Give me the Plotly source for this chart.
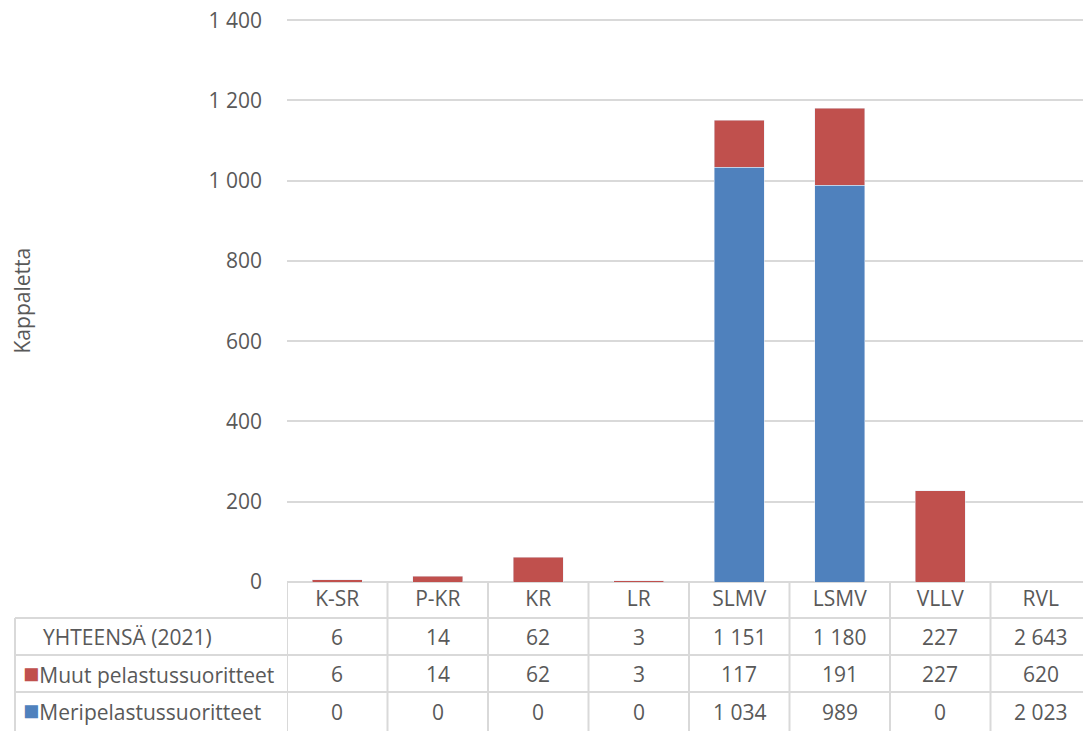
import plotly.graph_objects as go

categories = ["K-SR", "P-KR", "KR", "LR", "SLMV", "LSMV", "VLLV", "RVL"]
meripelastus = [0, 0, 0, 0, 1034, 989, 0, 2023]
muut = [6, 14, 62, 3, 117, 191, 227, 620]
yhteensa = [6, 14, 62, 3, 1151, 1180, 227, 2643]
y_ticks = [0, 200, 400, 600, 800, 1000, 1200, 1400]

# RVL is a summary column: it is only shown in the table, not as a bar
bar_cats = categories[:7]

BLUE = "#4F81BD"
RED = "#C0504D"
TXT = "#595959"
LINE = "#D9D9D9"
FONT = "Open Sans"
FS = 21

# the page body has an 8px margin, so the figure is shrunk to fit the window
OFF = 8
W, H = 1091 - OFF, 731 - OFF
PLOT_L, PLOT_T, PLOT_B = 287, 19, 582   # plot area in window pixels
L, R, T, B = PLOT_L - OFF, 0, PLOT_T - OFF, 731 - PLOT_B
plot_h = H - T - B
plot_w = W - L - R


def py(pix):
    # window pixel row -> paper y
    return (PLOT_B - pix) / plot_h


def px(pix):
    # window pixel column -> paper x
    return (pix - PLOT_L) / plot_w


def fmt(v):
    return f"{v:,}".replace(",", " ")


fig = go.Figure()
fig.add_trace(go.Bar(x=bar_cats, y=meripelastus[:7], name="Meripelastussuoritteet",
                     marker_color=BLUE))
fig.add_trace(go.Bar(x=bar_cats, y=muut[:7], name="Muut pelastussuoritteet",
                     marker_color=RED))

fig.update_layout(
    width=W, height=H,
    margin=dict(l=L, r=R, t=T, b=B),
    barmode="stack", bargap=0.5,
    showlegend=False,
    plot_bgcolor="white", paper_bgcolor="white",
    font=dict(family=FONT, size=FS, color=TXT),
    separators=", ",
)

fig.update_xaxes(
    type="category", categoryorder="array", categoryarray=categories,
    range=[-0.5, len(categories) - 0.5],
    showgrid=False, showline=False, ticks="",
    ticklabelstandoff=2, automargin=False,
    tickfont=dict(size=FS, color=TXT),
)
# top slightly above 1400 so plotly keeps the 1400 gridline
fig.update_yaxes(
    range=[0, 1403], tickvals=y_ticks, separatethousands=True,
    showgrid=True, gridcolor=LINE, gridwidth=1.5,
    zeroline=True, zerolinecolor=LINE, zerolinewidth=1.5,
    ticks="", ticklabelstandoff=24, ticklabeloverflow="allow",
    automargin=False,
    tickfont=dict(size=FS, color=TXT),
)

shapes = []
# vertical table lines at category boundaries
for i in range(len(categories) + 1):
    shapes.append(dict(type="line", xref="x", yref="paper",
                       x0=i - 0.5, x1=i - 0.5, y0=0, y1=py(731),
                       line=dict(color=LINE, width=2)))
# left border of the label column
shapes.append(dict(type="line", xref="paper", yref="paper",
                   x0=px(15), x1=px(15), y0=py(618), y1=py(731),
                   line=dict(color=LINE, width=2)))
# horizontal row lines
for yy in [618, 655, 692]:
    shapes.append(dict(type="line", xref="paper", yref="paper",
                       x0=px(15), x1=1, y0=py(yy), y1=py(yy),
                       line=dict(color=LINE, width=2)))

annotations = []
rows = [
    ("YHTEENSÄ (2021)", None, yhteensa, 637),
    ("Muut pelastussuoritteet", RED, muut, 674),
    ("Meripelastussuoritteet", BLUE, meripelastus, 712),
]
for label, col, vals, yc in rows:
    if col:
        text = f"<span style='color:{col};font-size:27px'>■</span>{label}"
        xl, yl = 21, yc - 2
    else:
        text = label
        xl, yl = 41, yc
    annotations.append(dict(xref="paper", yref="paper", x=px(xl), y=py(yl),
                            text=text, showarrow=False, xanchor="left",
                            yanchor="middle", font=dict(size=FS, color=TXT)))
    for cat, v in zip(categories, vals):
        annotations.append(dict(xref="x", yref="paper", x=cat, y=py(yc),
                                text=fmt(v), showarrow=False,
                                xanchor="center", yanchor="middle",
                                font=dict(size=FS, color=TXT)))

annotations.append(dict(xref="paper", yref="paper", x=px(21), y=0.5,
                        text="Kappaletta", textangle=-90, showarrow=False,
                        xanchor="center", yanchor="middle",
                        font=dict(size=FS, color=TXT)))

fig.update_layout(shapes=shapes, annotations=annotations)

fig.write_html("out.html")
